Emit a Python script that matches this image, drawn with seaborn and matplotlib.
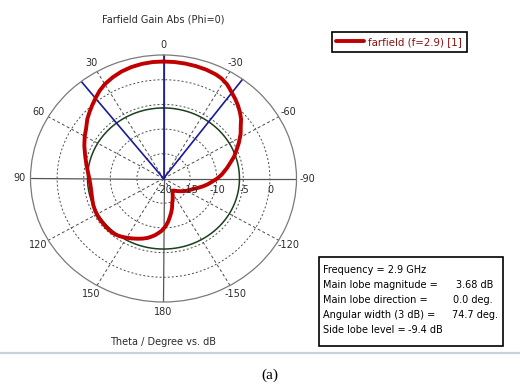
import numpy as np
import pandas as pd
import matplotlib
matplotlib.use("Agg")
import matplotlib.pyplot as plt
import seaborn as sns
from matplotlib.lines import Line2D
from matplotlib.patches import Rectangle

# Farfield gain cut, Phi = 0 (theta in degrees, counter-clockwise from 0; gain in dB)
theta_deg = [0, 5, 10, 15, 20, 25, 30, 34, 38.2, 42, 46, 50, 55.5, 60, 66, 72,
             76, 80, 85, 90, 95, 100, 104, 108, 112, 117, 121, 125, 132, 136,
             140, 144, 147, 150, 154, 158, 162, 166, 169, 172, 175, 178, 180,
             183, 186, 189, 192, 195, 198.4, 202, 206.4, 210, 215, 220, 225,
             230, 235.2, 242, 249.4, 254, 258, 262, 266.6, 270, 274.3, 280,
             284.4, 288.5, 293.3, 297, 302, 306.3, 309.5, 313, 316.5, 320,
             323.5, 326, 328, 331.7, 335, 340, 345, 350, 355, 360]
gain_db = [3.68, 3.66, 3.55, 3.35, 3.05, 2.6, 2.05, 1.45, 0.68, 0.0, -0.66,
           -1.3, -2.33, -2.9, -3.71, -4.5, -4.95, -5.35, -5.75, -6.05, -6.2,
           -6.2, -6.1, -5.95, -5.75, -5.6, -5.5, -5.45, -5.4, -5.4, -5.45,
           -5.65, -5.9, -6.15, -6.5, -6.85, -7.2, -7.6, -8.0, -8.4, -8.9,
           -9.4, -9.8, -10.5, -11.3, -12.2, -13.0, -13.8, -14.8, -15.4, -16.1,
           -16.6, -17.0, -16.8, -16.4, -16.0, -15.5, -14.8, -14.0, -13.2,
           -12.4, -11.6, -10.7, -9.9, -9.0, -7.9, -7.0, -6.0, -5.0, -4.1,
           -2.9, -1.98, -1.1, -0.35, 0.35, 1.0, 1.6, 2.1, 2.5, 3.0, 3.25, 3.45,
           3.55, 3.62, 3.67, 3.68]

# Beam markers: main lobe direction and the two 3 dB edges
main_lobe_dir = 0.0
beam_edges = [38.2, -36.5]
main_lobe_mag = 3.68
side_lobe_rel = -9.4

r_min, r_max = -20, 5
ring_levels = [-15, -10, -5, 0]
ring_labels = ["-20", "-15", "-10", "-5", "0"]
ring_label_pos = [-20, -15, -10, -5, 0]
angle_ticks = [0, 30, 60, 90, 120, 150, 180, -150, -120, -90, -60, -30]

info_labels = ["Frequency = 2.9 GHz", "Main lobe magnitude =",
               "Main lobe direction =", "Angular width (3 dB) =",
               "Side lobe level ="]
info_values = ["", "3.68 dB", "0.0 deg.", "74.7 deg.", "-9.4 dB"]

W, H = 520, 387
sns.set_style("white")
plt.rcParams["font.family"] = ["DejaVu Sans"]
txt = "#2b2b2b"

fig = plt.figure(figsize=(W / 100, H / 100), dpi=100)
fig.patch.set_facecolor("white")


def fx(px):
    return px / W


def fy(py):
    return 1 - py / H


ax = fig.add_axes([fx(30.5), fy(302), (296.5 - 30.5) / W, (302 - 55) / H],
                  projection="polar")
ax.set_aspect("auto")
ax.set_theta_zero_location("N")
ax.set_theta_direction(1)
ax.set_ylim(r_min, r_max)
ax.grid(False)
ax.set_xticks([])
ax.set_yticks([])
ax.spines["polar"].set_color("#7a7a7a")
ax.spines["polar"].set_linewidth(0.9)

full = np.linspace(0, 2 * np.pi, 361)
for lvl in ring_levels:
    ax.plot(full, np.full_like(full, lvl), color="#4a4a4a", lw=0.7,
            ls=(0, (2.0, 2.2)), zorder=1)
for a in [30, 60, 120, 150, 210, 240, 300, 330]:
    ax.plot([np.deg2rad(a)] * 2, [r_min, r_max], color="#4a4a4a", lw=0.7,
            ls=(0, (3, 2.5)), zorder=1)
for a in [0, 90, 180, 270]:
    ax.plot([np.deg2rad(a)] * 2, [r_min, r_max], color="#555555", lw=0.9,
            zorder=1.5)

# Side lobe reference circle
sl_level = main_lobe_mag + side_lobe_rel
ax.plot(full, np.full_like(full, sl_level), color="#1c3f1c", lw=1.1, zorder=2)

# Beam direction / beamwidth lines
for a in [main_lobe_dir] + beam_edges:
    ax.plot([np.deg2rad(a)] * 2, [r_min, r_max], color="#1a1a9a", lw=1.2,
            zorder=2.5)

df = pd.DataFrame({"theta": np.deg2rad(theta_deg), "gain": gain_db})
sns.lineplot(data=df, x="theta", y="gain", sort=False, estimator=None,
             color="#c00000", lw=2.8, ax=ax, zorder=3, legend=False,
             solid_joinstyle="round", solid_capstyle="round")
ax.set_xlabel("")
ax.set_ylabel("")
ax.set_ylim(r_min, r_max)

for a in angle_ticks:
    ax.text(np.deg2rad(a), 7.1, str(a), ha="center", va="center",
            fontsize=7, color=txt, clip_on=False)

for lab, r in zip(ring_labels, ring_label_pos):
    ax.annotate(lab, xy=(np.deg2rad(-90), r), xytext=(0.5, -8.6),
                textcoords="offset points", ha="center", va="center",
                fontsize=7, color=txt, annotation_clip=False)

fig.text(fx(163.5), fy(19), "Farfield Gain Abs (Phi=0)", ha="center",
         va="center", fontsize=7, color=txt)
fig.text(fx(163.5), fy(342), "Theta / Degree vs. dB", ha="center",
         va="center", fontsize=7, color=txt)

handle = Line2D([], [], color="#c00000", lw=2.8)
leg = fig.legend(handles=[handle], labels=["farfield (f=2.9) [1]"],
                 loc="upper left", bbox_to_anchor=(fx(331.5), fy(32.3)),
                 frameon=True, fancybox=False, edgecolor="black",
                 framealpha=1, fontsize=7.4, labelcolor="#8b1010",
                 handlelength=2.7, handletextpad=0.45, borderpad=0.45,
                 borderaxespad=0)
leg.get_frame().set_linewidth(1.2)

fig.patches.append(Rectangle((fx(319), fy(346)), (503 - 319) / W,
                             (346 - 257) / H, transform=fig.transFigure,
                             fill=False, ec="black", lw=1.2))
val_x = [None, 456.5, 453, 452.5, 408]
for i, (lab, val) in enumerate(zip(info_labels, info_values)):
    y = 270 + 15 * i
    fig.text(fx(323), fy(y), lab, ha="left", va="center", fontsize=7,
             color="black")
    if val:
        fig.text(fx(val_x[i]), fy(y), val, ha="left", va="center",
                 fontsize=7, color="black")

fig.add_artist(Line2D([0, 1], [fy(353), fy(353)], color="#c6d2de", lw=1.6,
                      transform=fig.transFigure))
fig.text(fx(270), fy(375), "(a)", ha="center", va="center", fontsize=11,
         family="Liberation Serif", color="black")

fig.savefig("out.png", dpi=100)
